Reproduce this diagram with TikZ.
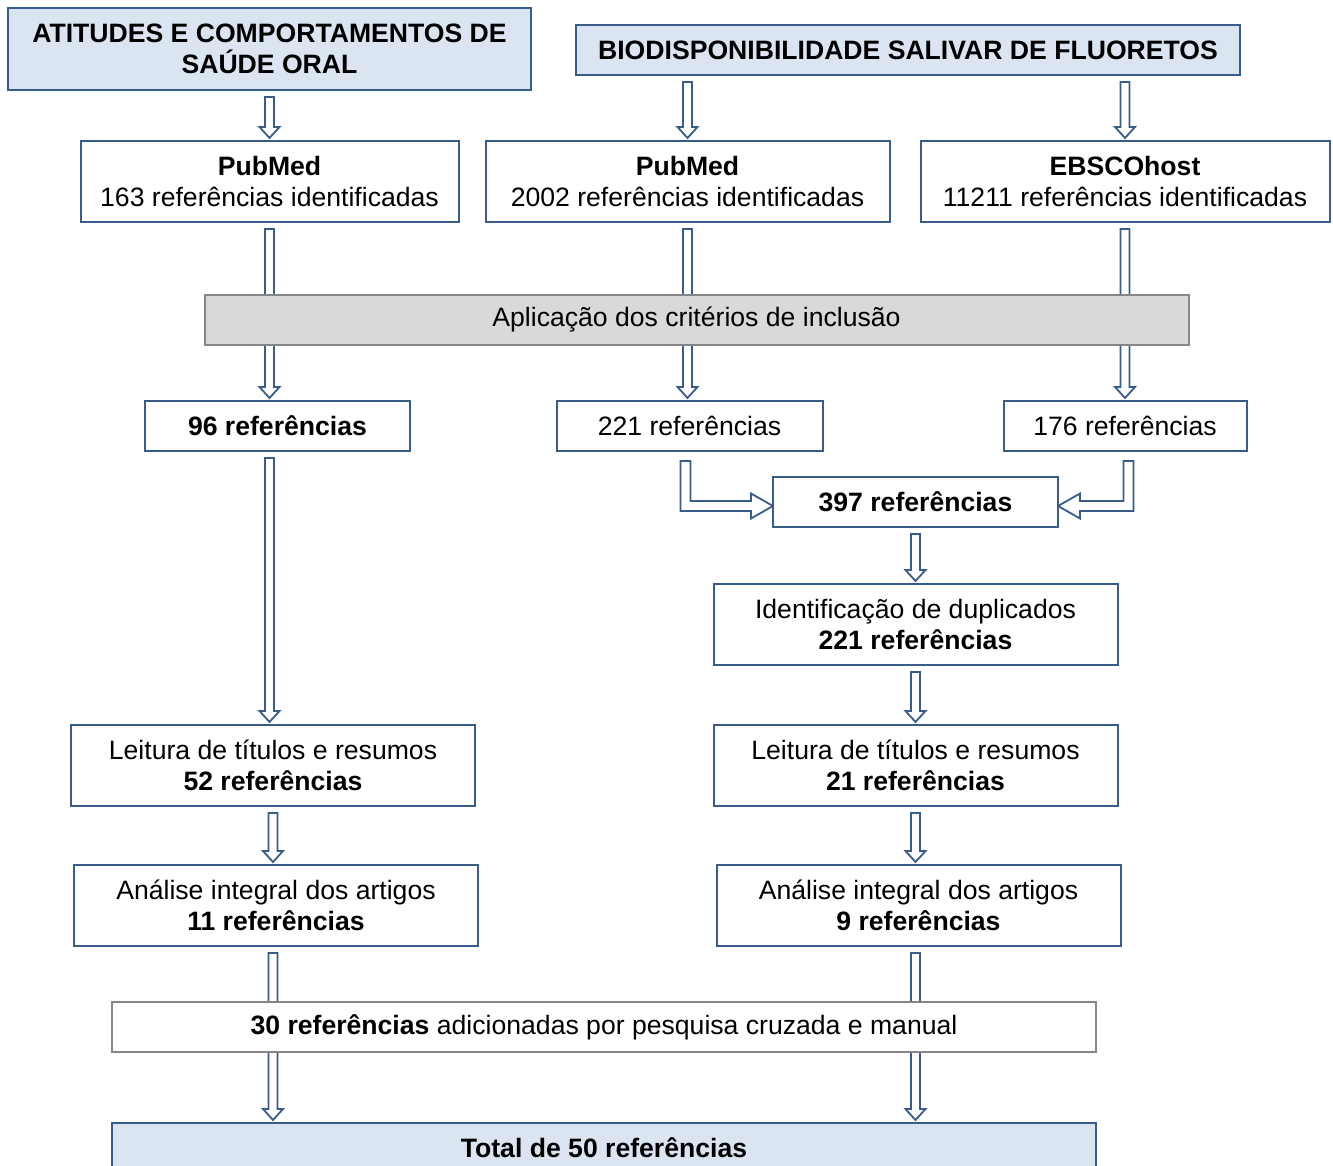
\documentclass[tikz,border=0pt]{standalone}
\usepackage{fontspec}
\setmainfont{Liberation Sans}
\usetikzlibrary{positioning,calc}
\pgfdeclarelayer{background}
\pgfsetlayers{background,main}

\definecolor{boxblue}{HTML}{385D8A}
\definecolor{titlefill}{HTML}{DBE5F1}
\definecolor{greyfill}{HTML}{D9D9D9}
\definecolor{greyline}{HTML}{868686}

\tikzset{
  box/.style={draw=boxblue, line width=2pt, fill=white, align=center, inner sep=0pt, outer sep=0pt,
    font=\fontsize{26.6pt}{30.5pt}\selectfont},
  titlebox/.style={box, fill=titlefill, font=\fontsize{26.6pt}{30.5pt}\selectfont\bfseries},
  greybox/.style={box, draw=greyline, fill=greyfill},
  downarrow/.style={draw=boxblue, line width=1.8pt, fill=white, to path={
    let \p1=(\tikztostart), \p2=(\tikztotarget) in
    (\x1-4.5,\y1-7) -- (\x1+4.5,\y1-7) -- (\x1+4.5,\y2+14) -- (\x1+10,\y2+14)
    -- (\x1,\y2+3) -- (\x1-10,\y2+14) -- (\x1-4.5,\y2+14) -- cycle}},
  turnarrow/.style={draw=boxblue, line width=1.8pt, fill=white, to path={
    let \p1=(\tikztostart), \p2=(\tikztotarget), \n1={sign(\x2-\x1)} in
    (\x1-\n1*5,\y1) -- (\x1+\n1*5,\y1) -- (\x1+\n1*5,\y2+5) -- (\x2-\n1*22,\y2+5)
    -- (\x2-\n1*22,\y2+12.5) -- (\x2,\y2) -- (\x2-\n1*22,\y2-12.5)
    -- (\x2-\n1*22,\y2-5) -- (\x1-\n1*5,\y2-5) -- cycle}}
}

\begin{document}
\begin{tikzpicture}[x=1pt, y=1pt]
    \useasboundingbox (0,0) rectangle (1333,-1166);

    % Define the boxes
    \node[titlebox, minimum width=523pt, minimum height=82pt] (atitudes) at (269.5,-49) {ATITUDES E COMPORTAMENTOS DE\\SAÚDE ORAL};
    \node[titlebox, minimum width=664pt, minimum height=50pt] (biodisp) at (908,-50) {BIODISPONIBILIDADE SALIVAR DE FLUORETOS};
    \node[box, minimum width=378pt, minimum height=81pt, below=51pt of atitudes] (pub1) {\textbf{PubMed}\\163 referências identificadas};
    \node[box, minimum width=404pt, minimum height=81pt, right=27pt of pub1] (pub2) {\textbf{PubMed}\\2002 referências identificadas};
    \node[box, minimum width=409pt, minimum height=81pt, right=31pt of pub2] (ebsco) {\textbf{EBSCOhost}\\11211 referências identificadas};
    \node[greybox, minimum width=984pt, minimum height=50pt, below=73pt of pub2, xshift=9pt] (criterios) {Aplicação dos critérios de inclusão};
    \node[box, minimum width=265pt, minimum height=50pt, below=179pt of pub1, xshift=8pt] (r96) {\textbf{96 referências}};
    \node[box, minimum width=266pt, minimum height=50pt, below=179pt of pub2, xshift=2pt] (r221) {221 referências};
    \node[box, minimum width=243pt, minimum height=50pt, below=179pt of ebsco] (r176) {176 referências};
    \node[box, minimum width=285pt, minimum height=50pt, below=26pt of r221, xshift=226pt] (r397) {\textbf{397 referências}};
    \node[box, minimum width=404pt, minimum height=81pt, below=57pt of r397] (ident) {Identificação de duplicados\\\textbf{221 referências}};
    \node[box, minimum width=404pt, minimum height=81pt, below=60pt of ident] (leit2) {Leitura de títulos e resumos\\\textbf{21 referências}};
    \node[box, minimum width=404pt, minimum height=81pt, below=59pt of leit2, xshift=3pt] (anal2) {Análise integral dos artigos\\\textbf{9 referências}};
    \node[box, minimum width=404pt, minimum height=81pt, below=274pt of r96, xshift=-4.5pt] (leit1) {Leitura de títulos e resumos\\\textbf{52 referências}};
    \node[box, minimum width=404pt, minimum height=81pt, below=59pt of leit1, xshift=3pt] (anal1) {Análise integral dos artigos\\\textbf{11 referências}};
    \node[box, draw=greyline, minimum width=984pt, minimum height=50pt, below=56pt of anal1, xshift=328pt] (cruzada) {\textbf{30 referências} adicionadas por pesquisa cruzada e manual};
    \node[titlebox, minimum width=984pt, minimum height=50pt, below=71pt of cruzada] (total) {Total de 50 referências};

    % Draw arrows between the boxes
    \begin{pgfonlayer}{background}
    \draw[downarrow] (atitudes.south) to (pub1.north);
    \draw[downarrow] (biodisp.south -| pub2) to (pub2.north);
    \draw[downarrow] (biodisp.south -| ebsco) to (ebsco.north);
    \draw[downarrow] (pub1.south) to (r96.north);
    \draw[downarrow] (pub2.south) to (r221.north);
    \draw[downarrow] (ebsco.south) to (r176.north);
    \draw[downarrow] (r96.south -| pub1) to (leit1.north);
    \draw[turnarrow] ([xshift=-4pt, yshift=-10pt]r221.south) to ([yshift=-4pt]r397.west);
    \draw[turnarrow] ([xshift=3.5pt, yshift=-10pt]r176.south) to ([yshift=-4pt]r397.east);
    \draw[downarrow] (r397.south) to (ident.north);
    \draw[downarrow] (ident.south) to (leit2.north);
    \draw[downarrow] (leit1.south) to (anal1.north);
    \draw[downarrow] (leit2.south) to (anal2.north);
    \draw[downarrow] (anal1.south -| leit1) to (total.north);
    \draw[downarrow] (anal2.south -| leit2) to (total.north);
    \end{pgfonlayer}
\end{tikzpicture}
\end{document}
